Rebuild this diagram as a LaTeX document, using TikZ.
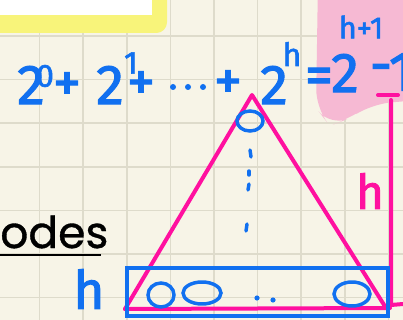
\documentclass[tikz,border=0pt]{standalone}
\usepackage{fontspec}
\setmainfont{Fira Sans}
\newfontfamily\semib[FakeBold=1.8]{Fira Sans}
\newfontfamily\handfont[FakeBold=0.8]{Poppins}
\definecolor{bg}{HTML}{F7F4E7}
\definecolor{gridc}{HTML}{DEDBCB}
\definecolor{yel}{HTML}{F8F47A}
\definecolor{pinkhl}{HTML}{F6B9D3}
\definecolor{pinkc}{HTML}{FF109F}
\definecolor{bluec}{HTML}{1170F0}
\tikzset{
  gridline/.style={draw=gridc, line width=1.2pt},
  pinkline/.style={draw=pinkc, line width=3pt, line cap=round, line join=round},
  bluethin/.style={draw=bluec, line width=2.6pt, line cap=round},
  bigtxt/.style={text=bluec, inner sep=0pt, font=\semib\fontsize{42}{42}\selectfont},
  suptxt/.style={text=bluec, inner sep=0pt, font=\semib\fontsize{24}{24}\selectfont},
}
\begin{document}
\begin{tikzpicture}[x=0.75pt,y=-0.75pt]
\useasboundingbox (0,0) rectangle (403,320);
\clip (0,0) rectangle (403,320);
\fill[bg] (0,0) rectangle (403,320);
\foreach \i in {0,...,8} \draw[gridline] ({39.5+43.6*\i},0) -- ++(0,320);
\foreach \i in {0,...,6} \draw[gridline] (0,{36+43.6*\i}) -- ++(403,0);
% yellow note box
\fill[yel, rounded corners=8] (-20,-20) rectangle (167,33);
\fill[white] (-20,-20) rectangle (152,15);
% pink highlight
\fill[pinkhl, rounded corners=14] (318,-20) -- (316,108) -- (330,126) -- (350,118) -- (372,104) -- (420,100) -- (420,-20) -- cycle;
% equation
\node[bigtxt] (a0) at (31,85) {2};
\node[suptxt] (e0) at (45,76) {0};
\node[bigtxt] (p1) at (67,87) {+};
\node[bigtxt] (a1) at (110,85) {2};
\node[suptxt] (e1) at (131,63) {1};
\node[bigtxt] (p2) at (141,86) {+};
\fill[bluec] (173,87) circle (3);
\fill[bluec] (188,87) circle (3);
\fill[bluec] (203,87) circle (3);
\node[bigtxt] (p3) at (228,85) {+};
\node[bigtxt] (ah) at (274,85) {2};
\node[suptxt] (eh) at (292,54) {h};
\node[bigtxt] (eq) at (319,81) {=};
\node[bigtxt] (b2) at (345,73) {2};
\node[suptxt, font=\semib\fontsize{23}{23}\selectfont] (eh1) at (361,27) {h+1};
\node[bigtxt] (mi) at (381,74) {-};
\node[bigtxt] (one) at (401,72) {1};
% odes
\node[anchor=base west, inner sep=0pt, font=\handfont\fontsize{33}{33}\selectfont] (odes) at (0,248) {odes};
\draw[black, line width=1.6pt] (odes.base west) ++(0,7) coordinate (ul0) -- ++(101,0) coordinate (ul1);
% pink triangle and height marker
\coordinate (apex) at (252,95);
\coordinate (bl) at (125,309);
\coordinate (br) at (386,308);
\draw[pinkline] (bl) -- (apex) -- (br);
\draw[pinkline] (bl) -- (390,308);
\coordinate (vt) at (391,100);
\coordinate (vb) at (391,305);
\draw[pinkline] (vt) -- (vb) -- (403,304);
\draw[pinkline] (378,95) -- (398,95);
\node[text=pinkc, inner sep=0pt, font=\semib\fontsize{36}{36}\selectfont] (hp) at (370,191) {h};
% blue level box and nodes
\node[draw=bluec, line width=3pt, minimum width=261*0.75pt, minimum height=48*0.75pt, inner sep=0pt] (lvl) at (257.5,292) {};
\node[text=bluec, inner sep=0pt, font=\semib\fontsize{40}{40}\selectfont] (hb) at (89,289) {h};
\draw[bluethin] (161,295) ellipse [x radius=13, y radius=12];
\draw[bluethin] (202,293) ellipse [x radius=19, y radius=11];
\draw[bluethin] (352,294) ellipse [x radius=18, y radius=12];
\fill[bluec] (257,298) circle (2.6);
\fill[bluec] (273,300) circle (2.6);
% apex node and dotted path
\draw[bluethin] (250,121) ellipse [x radius=13, y radius=10];
\draw[bluethin] (250,150) -- (251,157);
\draw[bluethin] (249,171) -- (249,175);
\draw[bluethin] (249,184) -- (248,190);
\draw[bluethin] (247,224) -- (246,231);
\end{tikzpicture}
\end{document}
